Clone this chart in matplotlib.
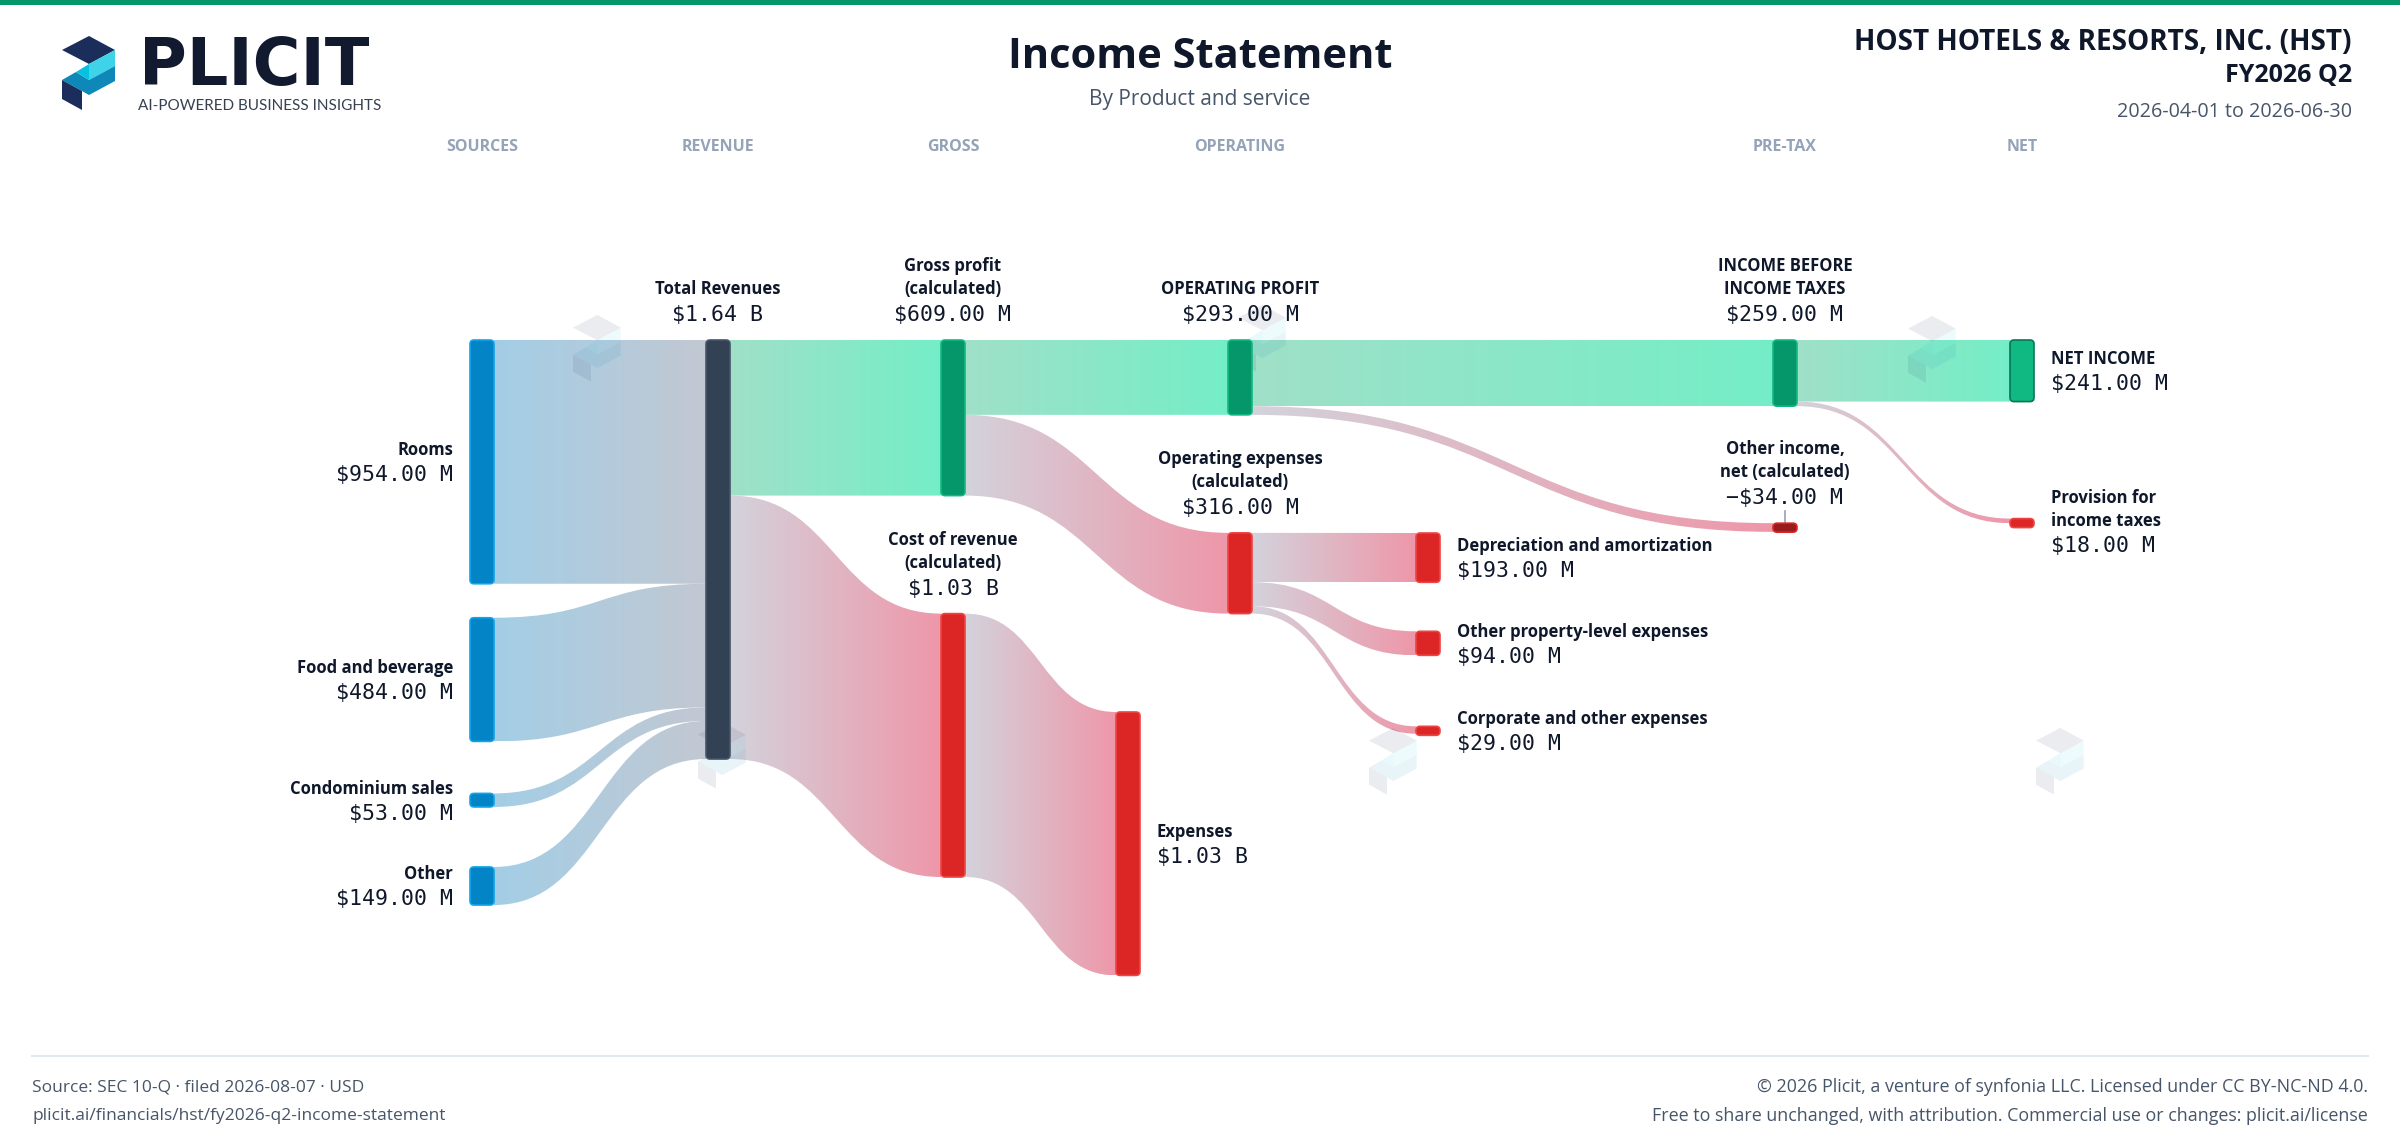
import numpy as np
import matplotlib.pyplot as plt
from matplotlib.path import Path
from matplotlib.patches import PathPatch, FancyBboxPatch, Polygon
from matplotlib.colors import LinearSegmentedColormap

plt.rcParams['font.family'] = ['Open Sans', 'DejaVu Sans']

# ---- data (USD millions) ----
node_names = ["Rooms", "Food and beverage", "Condominium sales", "Other",
              "Total Revenues", "Gross profit\n(calculated)", "Cost of revenue\n(calculated)",
              "Expenses", "OPERATING PROFIT", "Operating expenses\n(calculated)",
              "Depreciation and amortization", "Other property-level expenses",
              "Corporate and other expenses", "INCOME BEFORE\nINCOME TAXES",
              "Other income,\nnet (calculated)", "NET INCOME", "Provision for\nincome taxes"]
node_values = [954, 484, 53, 149, 1640, 609, 1031, 1031, 293, 316, 193, 94, 29, 259, -34, 241, 18]
node_kind = ["src", "src", "src", "src", "total", "profit", "cost", "cost", "profit", "cost",
             "cost", "cost", "cost", "profit", "loss", "net", "cost"]

link_src = [0, 1, 2, 3, 4, 4, 6, 5, 5, 9, 9, 9, 8, 8, 13, 13]
link_tgt = [4, 4, 4, 4, 5, 6, 7, 8, 9, 10, 11, 12, 13, 14, 15, 16]
link_values = [954, 484, 53, 149, 609, 1031, 1031, 293, 316, 193, 94, 29, 259, 34, 241, 18]
link_kind = ["rev", "rev", "rev", "rev", "profit", "cost", "cost", "profit", "cost",
             "cost", "cost", "cost", "profit", "cost", "profit", "cost"]

stage_names = ["SOURCES", "REVENUE", "GROSS", "OPERATING", "PRE-TAX", "NET"]
stage_cols = [0, 1, 2, 4, 6, 7]

# ---- layout ----
W, H = 2400, 1148
col_x = [482, 718, 953, 1128, 1240, 1428, 1785, 2022]
node_col = [0, 0, 0, 0, 1, 2, 2, 3, 4, 4, 5, 5, 5, 6, 6, 7, 7]
node_gap = [0, 34, 52, 60, 0, 0, 118, 372, 0, 118, 193, 49, 71, 0, 117, 0, 117]
label_pos = ["left", "left", "left", "left", "top", "top", "top", "right", "top", "top",
             "right", "right", "right", "top", "top", "right", "right"]
chart_top = 340
scale = 0.2555   # px per USD million
node_w = 24

node_fill = {"src": "#0284c7", "total": "#334155", "profit": "#059669", "net": "#10b981",
             "cost": "#dc2626", "loss": "#991b1b"}
node_edge = {"src": "#0ea5e9", "total": "#475569", "profit": "#10b981", "net": "#047857",
             "cost": "#ef4444", "loss": "#dc2626"}
link_colors = {"rev": ("#a3cee6", "#c2c8d2"), "profit": ("#a0e0c9", "#74eec6"),
               "cost": ("#d3d3dc", "#ee97a9")}

fig = plt.figure(figsize=(W / 100, H / 100), dpi=100)
ax = fig.add_axes([0, 0, 1, 1])
ax.axis("off")

# node geometry
heights = [abs(v) * scale for v in node_values]
tops = [0.0] * len(node_names)
col_bottom = {}
for i in range(len(node_names)):
    c = node_col[i]
    start = col_bottom.get(c, chart_top)
    tops[i] = start + node_gap[i]
    col_bottom[c] = tops[i] + heights[i]

# links
out_off = [0.0] * len(node_names)
in_off = [0.0] * len(node_names)
grad = np.linspace(0, 1, 256).reshape(1, -1)
for s, t, v, k in zip(link_src, link_tgt, link_values, link_kind):
    h = v * scale
    x0 = col_x[node_col[s]] + node_w / 2
    x1 = col_x[node_col[t]] - node_w / 2
    y0 = tops[s] + out_off[s]
    y1 = tops[t] + in_off[t]
    out_off[s] += h
    in_off[t] += h
    xm = (x0 + x1) / 2
    verts = [(x0, y0), (xm, y0), (xm, y1), (x1, y1), (x1, y1 + h),
             (xm, y1 + h), (xm, y0 + h), (x0, y0 + h), (x0, y0)]
    codes = [Path.MOVETO, Path.CURVE4, Path.CURVE4, Path.CURVE4, Path.LINETO,
             Path.CURVE4, Path.CURVE4, Path.CURVE4, Path.CLOSEPOLY]
    patch = PathPatch(Path(verts, codes), facecolor="none", edgecolor="none")
    ax.add_patch(patch)
    cmap = LinearSegmentedColormap.from_list("lk", list(link_colors[k]))
    ylo, yhi = min(y0, y1), max(y0, y1) + h
    im = ax.imshow(grad, cmap=cmap, extent=(x0 - 1, x1 + 1, yhi, ylo),
                   aspect="auto", zorder=1, interpolation="bilinear")
    im.set_clip_path(patch)


def draw_logo(x, y, s=1.0, alpha=1.0, z=5):
    shapes = [
        ([(0, 14), (27, 0), (53, 14), (27, 28)], "#1b2d5b"),
        ([(27, 28), (53, 14), (53, 30), (27, 44)], "#3dd3e8"),
        ([(0, 44), (14, 36), (27, 44), (53, 30), (53, 45), (27, 59), (20, 55)], "#0e87b9"),
        ([(14, 36), (27, 28), (27, 44)], "#06c1e0"),
        ([(0, 44), (20, 55), (20, 74), (0, 63)], "#1b2d5b"),
    ]
    for pts, col in shapes:
        ax.add_patch(Polygon([(x + px * s, y + py * s) for px, py in pts], closed=True,
                             facecolor=col, edgecolor="none", alpha=alpha, zorder=z))


# faint watermarks
for wx, wy in [(597, 348), (722, 755), (1262, 338), (1393, 761), (1932, 349), (2060, 761)]:
    draw_logo(wx - 24, wy - 33, s=0.9, alpha=0.09, z=2)

# nodes + labels
name_kw = dict(fontsize=12, fontweight="bold", color="#0f172a")
val_kw = dict(fontsize=15.5, color="#0f172a", family="DejaVu Sans Mono")
for i, name in enumerate(node_names):
    k = node_kind[i]
    cx = col_x[node_col[i]]
    hd = max(heights[i], 9)
    ax.add_patch(FancyBboxPatch((cx - node_w / 2, tops[i]), node_w, hd,
                                boxstyle="round,pad=0,rounding_size=4",
                                facecolor=node_fill[k], edgecolor=node_edge[k], lw=1.2, zorder=3))
    v = node_values[i]
    txt = f"${abs(v) / 1000:.2f} B" if abs(v) >= 1000 else f"${abs(v):.2f} M"
    if v < 0:
        txt = "\u2212" + txt
    lines = name.split("\n")
    pos = label_pos[i]
    if pos == "top":
        vy = tops[i] - 25
        ax.text(cx, vy, txt, ha="center", va="center", **val_kw)
        for j, ln in enumerate(reversed(lines)):
            ax.text(cx, vy - 26 - 23 * j, ln, ha="center", va="center", **name_kw)
        if k == "loss":
            ax.plot([cx, cx], [vy + 13, tops[i] - 1], color="#94a3b8", lw=1.2, zorder=2)
    else:
        cy = tops[i] + heights[i] / 2
        n = len(lines)
        span = 23 * (n - 1) + 25
        y_first = cy - span / 2 + 1
        if pos == "left":
            tx, ha = cx - node_w / 2 - 17, "right"
        else:
            tx, ha = cx + node_w / 2 + 17, "left"
        for j, ln in enumerate(lines):
            ax.text(tx, y_first + 23 * j, ln, ha=ha, va="center", **name_kw)
        ax.text(tx, y_first + span, txt, ha=ha, va="center", **val_kw)

# stage headers
for nm, c in zip(stage_names, stage_cols):
    ax.text(col_x[c], 147, nm, ha="center", va="center", fontsize=11.5,
            fontweight="bold", color="#94a3b8")

# header
ax.add_patch(plt.Rectangle((0, 0), W, 5, facecolor="#059669", edgecolor="none", zorder=6))
draw_logo(62, 36, s=1.0)
ax.text(139, 67, "PLICIT", ha="left", va="center", fontsize=47, fontweight="bold",
        family="DejaVu Sans", color="#111a2e")
ax.text(138, 106, "AI-POWERED BUSINESS INSIGHTS", ha="left", va="center", fontsize=11,
        family="Lato", color="#374151")
ax.text(1200, 58, "Income Statement", ha="center", va="center", fontsize=30,
        fontweight="bold", color="#0f172a")
ax.text(1200, 100, "By Product and service", ha="center", va="center", fontsize=15,
        color="#475569")
ax.text(2352, 43, "HOST HOTELS & RESORTS, INC. (HST)", ha="right", va="center",
        fontsize=20.2, fontweight="bold", color="#0f172a")
ax.text(2352, 76, "FY2026 Q2", ha="right", va="center", fontsize=18, fontweight="bold",
        color="#0f172a")
ax.text(2352, 112, "2026-04-01 to 2026-06-30", ha="right", va="center", fontsize=14.2,
        color="#475569")

# footer
ax.plot([32, 2368], [1056, 1056], color="#e2e8f0", lw=1.5)
foot_kw = dict(fontsize=12.5, color="#475569", va="center")
ax.text(32, 1087, "Source: SEC 10-Q \u00b7 filed 2026-08-07 \u00b7 USD", ha="left", **foot_kw)
ax.text(32, 1116, "plicit.ai/financials/hst/fy2026-q2-income-statement", ha="left", **foot_kw)
ax.text(2368, 1087, "\u00a9 2026 Plicit, a venture of synfonia LLC. Licensed under CC BY-NC-ND 4.0.",
        ha="right", fontsize=12.9, color="#475569", va="center")
ax.text(2368, 1116, "Free to share unchanged, with attribution. Commercial use or changes: plicit.ai/license",
        ha="right", fontsize=12.9, color="#475569", va="center")

ax.set_xlim(0, W)
ax.set_ylim(H, 0)
ax.set_aspect("auto")
fig.savefig("out.png", dpi=100, facecolor="white")
